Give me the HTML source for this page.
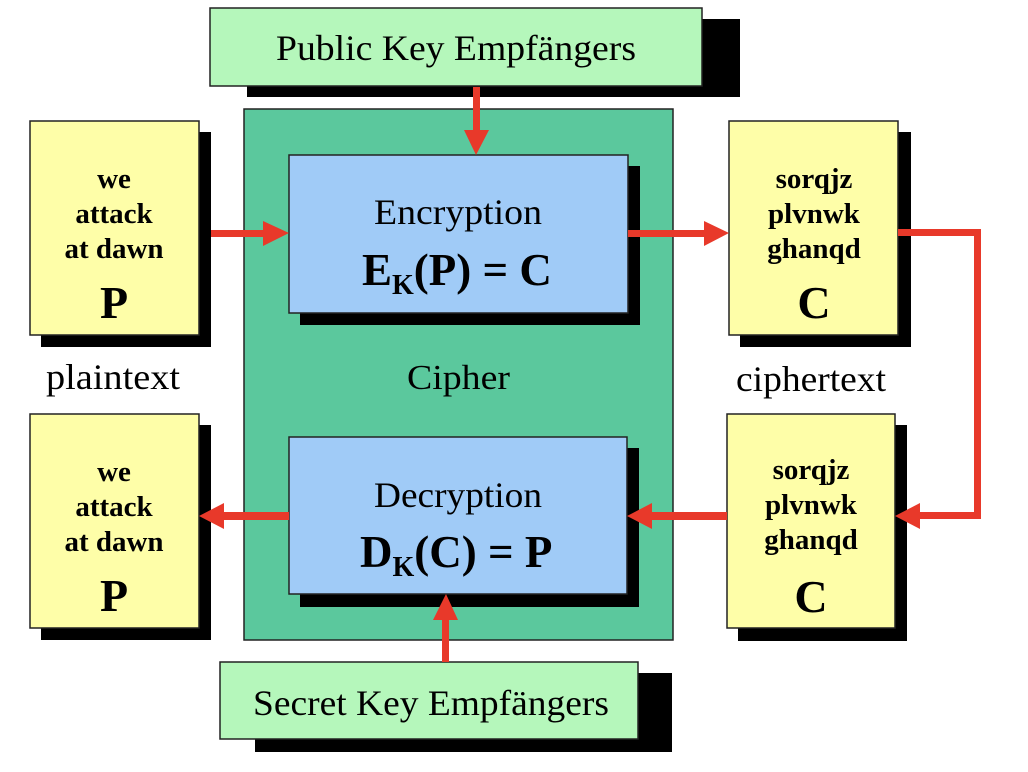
<!DOCTYPE html>
<html><head><meta charset="utf-8"><style>
html,body{margin:0;padding:0;background:#fff;}
svg{display:block;}
text{font-family:"Liberation Serif",serif;fill:#000;}
.b{font-weight:bold;}
</style></head><body>
<svg width="1028" height="772" viewBox="0 0 1028 772" xmlns="http://www.w3.org/2000/svg">
<!-- public key -->
<rect x="247" y="19" width="493" height="78" fill="#000"/>
<rect x="210" y="8" width="492" height="78" fill="#b5f7bb" stroke="#222" stroke-width="1.5"/>
<text x="276" y="60" font-size="36" textLength="360" lengthAdjust="spacingAndGlyphs">Public Key Empfängers</text>
<!-- cipher -->
<rect x="244" y="109" width="429" height="531" fill="#5bc89d" stroke="#222" stroke-width="1.5"/>
<text x="407" y="389" font-size="35" textLength="103" lengthAdjust="spacingAndGlyphs">Cipher</text>
<!-- encryption -->
<rect x="300" y="166" width="340" height="159" fill="#000"/>
<rect x="289" y="155" width="339" height="158" fill="#a0cbf7" stroke="#222" stroke-width="1.5"/>
<text x="374" y="224" font-size="36" textLength="168" lengthAdjust="spacingAndGlyphs">Encryption</text>
<text x="362" y="285" font-size="45" class="b">E<tspan font-size="28" dy="9">K</tspan><tspan dy="-9">(P) = C</tspan></text>
<!-- decryption -->
<rect x="300" y="448" width="339" height="159" fill="#000"/>
<rect x="289" y="437" width="338" height="157" fill="#a0cbf7" stroke="#222" stroke-width="1.5"/>
<text x="374" y="507" font-size="36" textLength="168" lengthAdjust="spacingAndGlyphs">Decryption</text>
<text x="360" y="567" font-size="45" class="b">D<tspan font-size="28" dy="9">K</tspan><tspan dy="-9">(C) = P</tspan></text>
<!-- secret key -->
<rect x="255" y="673" width="417" height="79" fill="#000"/>
<rect x="220" y="662" width="418" height="77" fill="#b5f7bb" stroke="#222" stroke-width="1.5"/>
<text x="253" y="715" font-size="36" textLength="356" lengthAdjust="spacingAndGlyphs">Secret Key Empfängers</text>
<!-- yellow boxes -->
<g>
<rect x="41" y="132" width="170" height="215" fill="#000"/>
<rect x="30" y="121" width="169" height="214" fill="#fefea8" stroke="#222" stroke-width="1.5"/>
<text x="114" y="188" font-size="29" class="b" text-anchor="middle">we</text>
<text x="114" y="223" font-size="29" class="b" text-anchor="middle">attack</text>
<text x="114" y="258" font-size="29" class="b" text-anchor="middle">at dawn</text>
<text x="114" y="318" font-size="46" class="b" text-anchor="middle">P</text>
</g>
<g>
<rect x="41" y="425" width="170" height="215" fill="#000"/>
<rect x="30" y="414" width="169" height="214" fill="#fefea8" stroke="#222" stroke-width="1.5"/>
<text x="114" y="481" font-size="29" class="b" text-anchor="middle">we</text>
<text x="114" y="516" font-size="29" class="b" text-anchor="middle">attack</text>
<text x="114" y="551" font-size="29" class="b" text-anchor="middle">at dawn</text>
<text x="114" y="611" font-size="46" class="b" text-anchor="middle">P</text>
</g>
<g>
<rect x="740" y="132" width="171" height="215" fill="#000"/>
<rect x="729" y="121" width="169" height="214" fill="#fefea8" stroke="#222" stroke-width="1.5"/>
<text x="814" y="188" font-size="29" class="b" text-anchor="middle">sorqjz</text>
<text x="814" y="223" font-size="29" class="b" text-anchor="middle">plvnwk</text>
<text x="814" y="258" font-size="29" class="b" text-anchor="middle">ghanqd</text>
<text x="814" y="318" font-size="46" class="b" text-anchor="middle">C</text>
</g>
<g>
<rect x="738" y="425" width="169" height="216" fill="#000"/>
<rect x="727" y="414" width="168" height="214" fill="#fefea8" stroke="#222" stroke-width="1.5"/>
<text x="811" y="479" font-size="29" class="b" text-anchor="middle">sorqjz</text>
<text x="811" y="514" font-size="29" class="b" text-anchor="middle">plvnwk</text>
<text x="811" y="549" font-size="29" class="b" text-anchor="middle">ghanqd</text>
<text x="811" y="612" font-size="46" class="b" text-anchor="middle">C</text>
</g>
<text x="46" y="389" font-size="36" textLength="134" lengthAdjust="spacingAndGlyphs">plaintext</text>
<text x="736" y="391" font-size="36" textLength="150" lengthAdjust="spacingAndGlyphs">ciphertext</text>
<!-- arrows -->
<g fill="#e8392a" stroke="none">
<rect x="473" y="87" width="7" height="45"/>
<polygon points="464,130 489,130 476,155"/>
<rect x="211" y="230" width="54" height="7"/>
<polygon points="263,221 263,246 289,233"/>
<rect x="628" y="230" width="78" height="7"/>
<polygon points="704,221 704,246 729,233"/>
<path d="M898,229 H981 V519 H920 V512 H974 V236 H898 Z"/>
<polygon points="895,516 920,503 920,529"/>
<rect x="652" y="512" width="75" height="8"/>
<polygon points="627,516 652,503 652,529"/>
<rect x="222" y="512" width="67" height="8"/>
<polygon points="199,516 224,503 224,529"/>
<rect x="442" y="618" width="7" height="44"/>
<polygon points="433,620 458,620 446,594"/>
</g>
</svg>
</body></html>
